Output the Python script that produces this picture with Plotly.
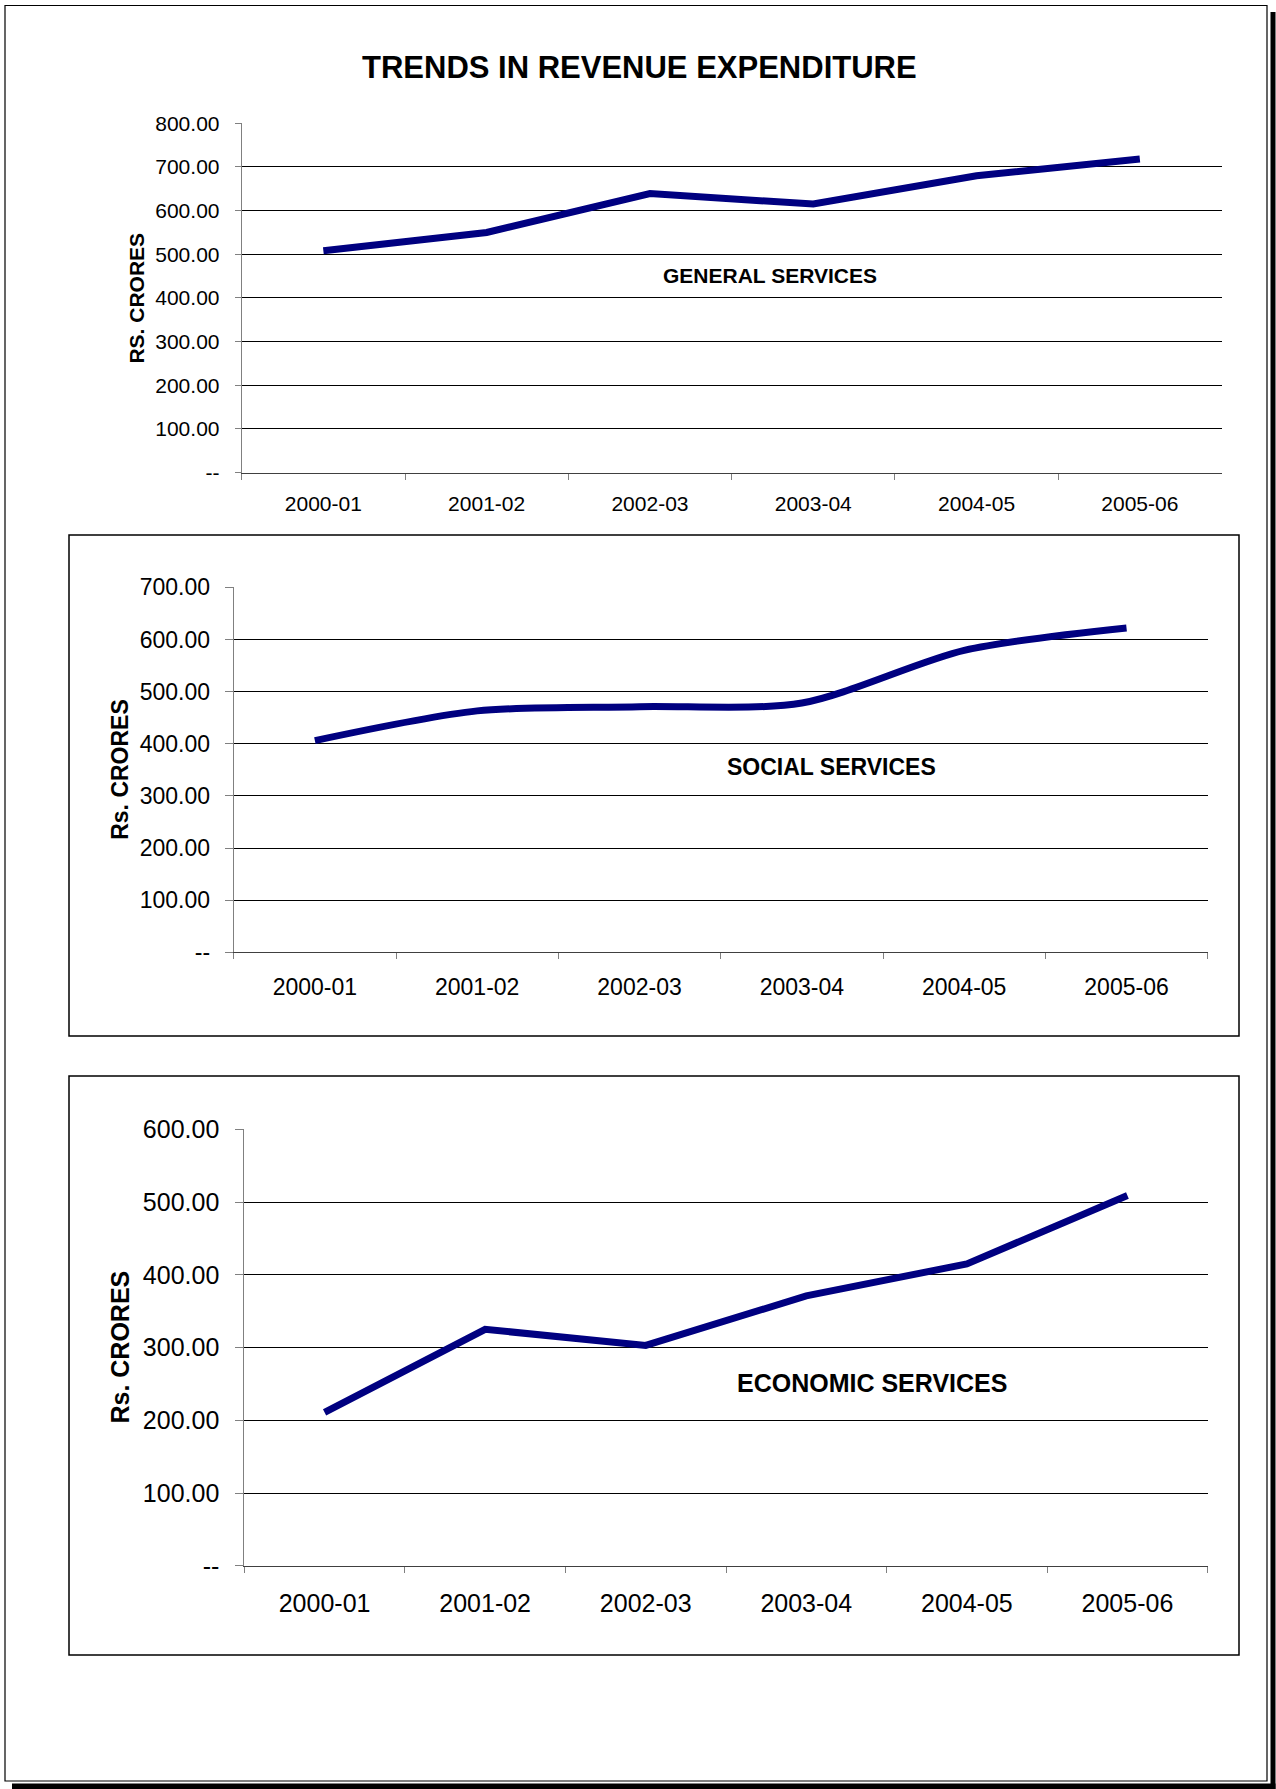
import plotly.graph_objects as go

# ---------------- data ----------------
years = ["2000-01", "2001-02", "2002-03", "2003-04", "2004-05", "2005-06"]
general_services = [508, 550, 639, 615, 680, 718]
social_services = [406, 463, 471, 478, 579, 622]
economic_services = [211, 325, 303, 371, 415, 509]

general_ticks = [0, 100, 200, 300, 400, 500, 600, 700, 800]
social_ticks = [0, 100, 200, 300, 400, 500, 600, 700]
economic_ticks = [0, 100, 200, 300, 400, 500, 600]

# ---------------- layout helpers ----------------
W, H = 1276, 1789
FONT = "Liberation Sans, Arial, sans-serif"
NAVY = "#000080"


def px_x(x):
    return x / W


def px_y(y):
    return 1 - y / H


def tick_text(vals):
    return ["--" if v == 0 else f"{v:.2f}" for v in vals]


fig = go.Figure()

panels = [
    dict(y=general_services, ticks=general_ticks, box=(241.7, 1221.5, 123.3, 472.5), fs=21, tl=6,
         shape="linear", label="GENERAL SERVICES", lpos=(769.5, 276), ytitle="RS. CRORES", ytx=136.7,
         xstand=12, ystand=11),
    dict(y=social_services, ticks=social_ticks, box=(233.7, 1207.7, 587.3, 952.3), fs=23, tl=8,
         shape="spline", label="SOCIAL SERVICES", lpos=(831, 767.5), ytitle="Rs. CRORES", ytx=120,
         xstand=14, ystand=10),
    dict(y=economic_services, ticks=economic_ticks, box=(244.3, 1207.7, 1129.3, 1565.8), fs=25, tl=8,
         shape="linear", label="ECONOMIC SERVICES", lpos=(872, 1383), ytitle="Rs. CRORES", ytx=120,
         xstand=15, ystand=11),
]

annotations = []
for i, p in enumerate(panels, start=1):
    sfx = "" if i == 1 else str(i)
    l, r, t, b = p["box"]
    fig.add_trace(go.Scatter(
        x=years, y=p["y"], mode="lines",
        line=dict(color=NAVY, width=7, shape=p["shape"], smoothing=0.8 if p["shape"] == "spline" else None),
        xaxis="x" + sfx, yaxis="y" + sfx, showlegend=False, hoverinfo="x+y",
    ))
    fig.layout["xaxis" + sfx] = dict(
        domain=[px_x(l), px_x(r)], anchor="y" + sfx, type="category",
        range=[-0.5, len(years) - 0.5], tickson="boundaries",
        ticks="outside", ticklen=6, tickcolor="#808080", tickwidth=1,
        showline=True, linecolor="#404040", linewidth=1,
        showgrid=False, zeroline=False, automargin=False,
        tickfont=dict(family=FONT, size=p["fs"], color="black"),
        ticklabelstandoff=p["xstand"],
    )
    fig.layout["yaxis" + sfx] = dict(
        domain=[px_y(b), px_y(t)], anchor="x" + sfx,
        range=[0, max(p["ticks"])], tickvals=p["ticks"], ticktext=tick_text(p["ticks"]),
        ticks="outside", ticklen=p["tl"], tickcolor="#808080", tickwidth=1,
        showline=True, linecolor="#808080", linewidth=1,
        showgrid=True, gridcolor="black", gridwidth=1, zeroline=False, automargin=False,
        tickfont=dict(family=FONT, size=p["fs"], color="black"),
        ticklabelstandoff=p["ystand"],
    )
    annotations.append(dict(
        text=f"<b>{p['label']}</b>", x=px_x(p["lpos"][0]), y=px_y(p["lpos"][1]),
        xref="paper", yref="paper", xanchor="center", yanchor="middle", showarrow=False,
        font=dict(family=FONT, size=p["fs"], color="black"),
    ))
    annotations.append(dict(
        text=f"<b>{p['ytitle']}</b>", x=px_x(p["ytx"]), y=px_y((t + b) / 2),
        xref="paper", yref="paper", xanchor="center", yanchor="middle", showarrow=False,
        textangle=-90, font=dict(family=FONT, size=p["fs"], color="black"),
    ))

annotations.append(dict(
    text="<b>TRENDS IN REVENUE EXPENDITURE</b>", x=px_x(639), y=px_y(68),
    xref="paper", yref="paper", xanchor="center", yanchor="middle", showarrow=False,
    font=dict(family=FONT, size=31, color="black"),
))


def rect(x0, y0, x1, y1, **kw):
    d = dict(type="rect", xref="paper", yref="paper",
             x0=px_x(x0), x1=px_x(x1), y0=px_y(y1), y1=px_y(y0), layer="below")
    d.update(kw)
    return d


shapes = [
    rect(1270.5, 12, 1275.5, 1789, fillcolor="black", line=dict(width=0)),
    rect(12, 1783.5, 1275.5, 1789, fillcolor="black", line=dict(width=0)),
    rect(5, 5.5, 1267, 1781, line=dict(color="black", width=1.2)),
    rect(69, 535, 1239, 1036, line=dict(color="black", width=1.5)),
    rect(69, 1076, 1239, 1655, line=dict(color="black", width=1.5)),
]

fig.update_layout(
    width=W, height=H, margin=dict(l=0, r=0, t=0, b=0, pad=0, autoexpand=False),
    paper_bgcolor="white", plot_bgcolor="rgba(0,0,0,0)",
    annotations=annotations, shapes=shapes, showlegend=False,
    font=dict(family=FONT, color="black"),
)

fig.write_html(
    "out.html",
    config={"displayModeBar": False},
    post_script=(
        "document.documentElement.style.margin='0';"
        "document.documentElement.style.overflow='hidden';"
        "document.body.style.margin='0';"
        "document.body.style.padding='0';"
        "document.body.style.overflow='hidden';"
    ),
)
